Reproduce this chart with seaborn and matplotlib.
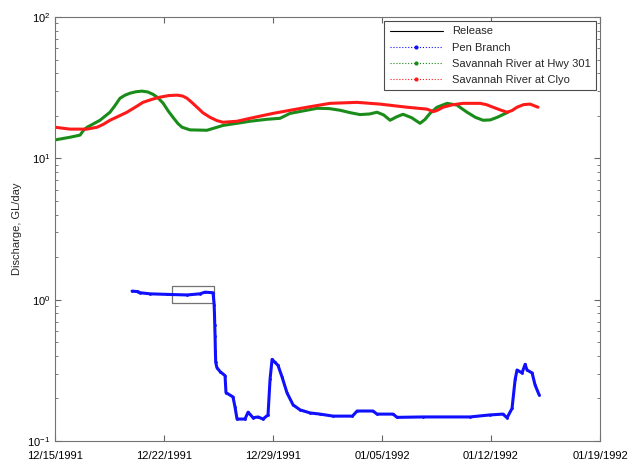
import numpy as np
import pandas as pd
import matplotlib
matplotlib.use("Agg")
import matplotlib.pyplot as plt
import matplotlib.dates as mdates
from matplotlib.lines import Line2D
import seaborn as sns

# days after 12/15/1991, values in GL/day
pen_days = [4.95, 5.33, 5.46, 6.10, 7.19, 8.48, 9.31, 9.63, 10.15, 10.22, 10.24,
            10.26, 10.28, 10.30, 10.32, 10.40, 10.60, 10.92, 10.98, 11.43, 11.56,
            11.69, 12.20, 12.40, 12.72, 13.04, 13.36, 13.68, 13.81, 13.94, 14.13,
            14.32, 14.58, 14.90, 15.29, 15.74, 16.38, 17.02, 17.86, 19.10, 19.40,
            20.42, 20.68, 21.71, 21.97, 23.64, 26.65, 27.94, 28.77, 29.03, 29.35,
            29.55, 29.67, 29.99, 30.19, 30.31, 30.64, 30.83, 31.09]
pen_vals = [1.15, 1.14, 1.12, 1.10, 1.09, 1.08, 1.10, 1.13, 1.12, 0.92, 0.80,
            0.66, 0.55, 0.43, 0.36, 0.33, 0.31, 0.29, 0.22, 0.205, 0.174,
            0.143, 0.143, 0.160, 0.146, 0.148, 0.143, 0.153, 0.273, 0.378, 0.360,
            0.343, 0.284, 0.219, 0.180, 0.166, 0.158, 0.155, 0.150, 0.150, 0.163,
            0.163, 0.155, 0.155, 0.147, 0.148, 0.148, 0.153, 0.155, 0.146, 0.170,
            0.273, 0.318, 0.303, 0.349, 0.318, 0.303, 0.249, 0.212]

hwy_days = [0.0, 0.96, 1.61, 1.85, 2.06, 2.45, 2.89, 3.53, 3.85, 4.17, 4.50,
            4.82, 5.20, 5.59, 5.95, 6.29, 6.60, 6.94, 7.25, 7.58, 7.90, 8.16,
            8.67, 9.76, 10.79, 11.69, 12.52, 13.62, 14.45, 15.09, 16.83, 17.6,
            18.30, 19.0, 19.59, 20.2, 20.68, 21.1, 21.52, 21.95, 22.35, 22.9,
            23.44, 23.75, 24.08, 24.53, 25.18, 25.82, 26.1, 26.46, 27.0, 27.49,
            27.95, 28.39, 29.09]
hwy_vals = [13.5, 14.1, 14.6, 15.9, 16.6, 17.5, 18.6, 21.2, 23.6, 26.6, 28.0,
            28.9, 29.6, 29.9, 29.5, 28.4, 26.9, 24.6, 21.8, 19.5, 17.6, 16.6,
            15.9, 15.8, 17.1, 17.7, 18.3, 18.9, 19.2, 20.8, 22.6, 22.5,
            21.9, 21.0, 20.4, 20.6, 21.2, 20.3, 18.6, 19.7, 20.5, 19.4,
            17.7, 18.8, 20.8, 23.0, 24.5, 23.8, 22.6, 21.2, 19.5, 18.6,
            18.7, 19.5, 21.2]

clyo_days = [0.0, 0.96, 2.06, 2.70, 3.10, 3.53, 4.10, 4.62, 5.15, 5.65, 6.20,
             6.74, 7.30, 7.84, 8.20, 8.48, 8.80, 9.12, 9.50, 9.96, 10.40, 10.79,
             11.69, 12.52, 14.0, 16.18, 17.66, 19.40, 20.87, 22.61, 23.89, 24.3,
             24.6, 24.92, 25.5, 26.20, 27.30, 27.7, 28.13, 28.6, 29.03, 29.35,
             29.67, 30.1, 30.51, 31.02]
clyo_vals = [16.6, 16.1, 16.1, 16.6, 17.4, 18.6, 19.9, 21.2, 23.0, 24.9, 26.1,
             27.1, 27.8, 28.0, 27.6, 26.6, 24.8, 23.0, 21.0, 19.5, 18.5, 18.0,
             18.3, 19.2, 20.8, 23.0, 24.5, 24.9, 24.2, 23.0, 22.3, 21.4,
             22.0, 23.0, 23.9, 24.5, 24.5, 24.0, 23.0, 22.0, 21.2, 21.8,
             23.0, 24.0, 24.2, 23.0]

release_days = [7.51, 7.51, 10.21, 10.21, 7.51]
release_vals = [0.947, 1.25, 1.25, 0.947, 0.947]

start = pd.Timestamp("1991-12-15")
tick_dates = pd.date_range(start, periods=6, freq="7D")


def to_dates(days):
    return start + pd.to_timedelta(np.array(days), unit="D")


sns.set_style("ticks")
plt.rcParams["font.family"] = ["Liberation Sans", "DejaVu Sans"]

fig = plt.figure(figsize=(6.44, 4.65), dpi=100)
ax = fig.add_axes([0.0854, 0.0516, 0.8463, 0.9118])

line_kw = dict(sort=False, estimator=None, errorbar=None, ax=ax)
sns.lineplot(x=to_dates(release_days), y=release_vals, color="0.45", lw=0.9,
             **line_kw)
sns.lineplot(x=to_dates(pen_days), y=pen_vals, color="#1010ff", lw=2.2,
             marker=".", markersize=4, markeredgewidth=0, **line_kw)
sns.lineplot(x=to_dates(hwy_days), y=hwy_vals, color="#1a8c1a", lw=2.2,
             **line_kw)
sns.lineplot(x=to_dates(clyo_days), y=clyo_vals, color="#ff1a1a", lw=2.2,
             **line_kw)

ax.set_yscale("log")
ax.set_ylim(0.1, 100)
ax.set_xlim(tick_dates[0], tick_dates[-1])
ax.set_xticks(tick_dates)
ax.xaxis.set_major_formatter(mdates.DateFormatter("%m/%d/%Y"))
ax.set_ylabel("Discharge, GL/day", fontsize=8)
ax.set_xlabel("")
ax.tick_params(axis="both", which="both", direction="in", top=True,
               right=True, labelsize=8, colors="0.4", labelcolor="black")
ax.tick_params(which="major", length=4)
ax.tick_params(which="minor", length=2)
ax.tick_params(axis="x", pad=7)
for s in ax.spines.values():
    s.set_color("0.45")
    s.set_linewidth(0.8)

handles = [
    Line2D([], [], color="black", lw=0.8),
    Line2D([], [], color="#1010ff", lw=0.8, ls=":", marker=".", markersize=4),
    Line2D([], [], color="#1a8c1a", lw=0.8, ls=":", marker=".", markersize=4),
    Line2D([], [], color="#ff1a1a", lw=0.8, ls=":", marker=".", markersize=4),
]
labels = ["Release", "Pen Branch", "Savannah River at Hwy 301",
          "Savannah River at Clyo"]
leg = ax.legend(handles, labels, loc="upper right", fontsize=8,
                fancybox=False, framealpha=1, edgecolor="0.3",
                borderaxespad=0.35, handlelength=4.8, labelspacing=0.55,
                borderpad=0.5)
leg.get_frame().set_linewidth(0.8)

fig.savefig("out.png", dpi=100)
